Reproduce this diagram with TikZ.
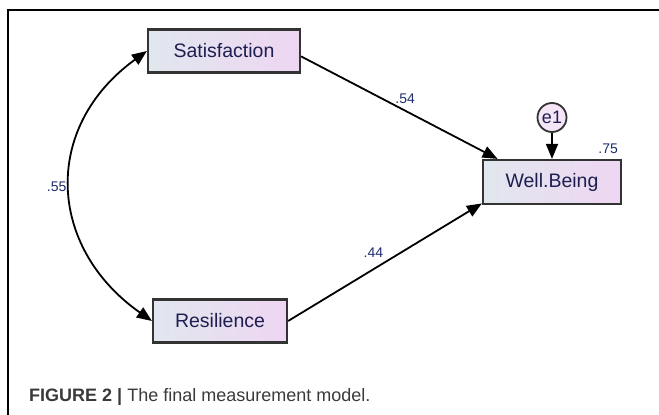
\documentclass[tikz,border=0pt]{standalone}
\usepackage{fontspec}
\setmainfont{Liberation Sans}
\usetikzlibrary{arrows.meta,positioning}
\definecolor{boxleft}{HTML}{E1E7EE}
\definecolor{boxright}{HTML}{EED6F2}
\definecolor{vartext}{HTML}{1E1E50}
\definecolor{coeftext}{HTML}{1C2C6C}
\definecolor{captext}{HTML}{3A3A3A}

\begin{document}
\begin{tikzpicture}[x=1pt,y=-1pt,>={Triangle[length=15pt,width=12pt]},line width=1.8pt,
	var node/.style={draw=black!80,line width=2.2pt,left color=boxleft,right color=boxright,
		minimum height=43pt,font=\fontsize{19.5}{22}\selectfont,text=vartext},
	err node/.style={circle,draw=black!80,line width=1.8pt,fill=boxright!60,minimum size=29pt,
		inner sep=0pt,font=\fontsize{18}{20}\selectfont,text=vartext},
	coef/.style={font=\fontsize{14}{16}\selectfont,text=coeftext}]
\useasboundingbox (0,0) rectangle (659,415);
\draw[line width=1.5pt] (8,415) -- (8,10) -- (659,10);
\node[var node,minimum width=152pt] (sat) at (224,51) {Satisfaction};
\node[var node,minimum width=138pt,minimum height=44pt] (wb) at (552,182) {Well.Being};
\node[var node,minimum width=134pt] (res) at (220,321) {Resilience};
\node[err node,above=26pt of wb] (e1) {e1};
\node[coef,above left=1pt and 0pt of wb.north east] (r2) {.75};
\draw[<->] (sat.west) .. controls +(-105,76) and +(-105,-74) .. node[coef,left,pos=.5] {.55} (res.west);
\path[->]
	(sat.-4) edge node[coef,pos=.53,above=3pt] {.54} (wb.157)
	(res.east) edge node[coef,pos=.44,above=8pt] {.44} (wb.197)
	(e1) edge (wb);
\node[anchor=base west,text=captext,font=\fontsize{18}{20}\selectfont] (cap) at (25,401)
	{\textbf{FIGURE 2 |} The final measurement model.};
\end{tikzpicture}
\end{document}
